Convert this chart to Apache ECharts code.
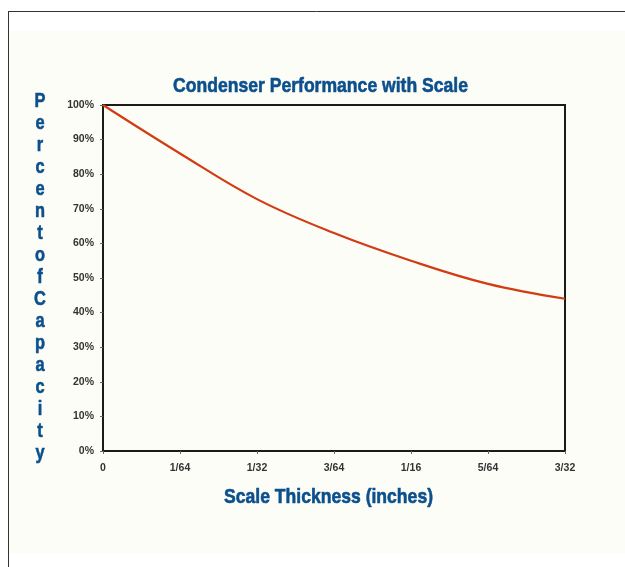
<!DOCTYPE html>
<html>
<head>
<meta charset="utf-8">
<script src="https://cdn.jsdelivr.net/npm/echarts@6/dist/echarts.min.js"></script>
<style>
html,body{margin:0;padding:0;background:#fff;}
#c{width:625px;height:567px;}
</style>
</head>
<body>
<div id="c"></div>
<script>
const categories = ['0', '1/64', '1/32', '3/64', '1/16', '5/64', '3/32'];
const capacity = [100, 86, 72.8, 63, 55, 48.3, 44];
const yTicks = { min: 0, max: 100, interval: 10 };
const titleText = 'Condenser Performance with Scale';
const xName = 'Scale Thickness (inches)';
const yName = 'Percent of Capacity';

const blue = '#0b4f8c';
const baseFont = '"Liberation Sans", Arial, sans-serif';

// horizontal condensing factor so the bold text fits the width seen in the reference
function fitScale(text, font, targetWidth) {
  const ctx = document.createElement('canvas').getContext('2d');
  ctx.font = font;
  return targetWidth / ctx.measureText(text).width;
}
const titleFont = 'bold 21px ' + baseFont;
const xNameFont = 'bold 21px ' + baseFont;
const yNameFont = 'bold 21px ' + baseFont;

const chart = echarts.init(document.getElementById('c'));
chart.setOption({
  backgroundColor: '#ffffff',
  animation: false,
  graphic: [
    { type: 'rect', left: 8, top: 31, shape: { width: 617, height: 522 }, style: { fill: '#fdfdf7' }, z: -10 },
    { type: 'line', shape: { x1: 8, y1: 11.5, x2: 625, y2: 11.5 }, style: { stroke: '#333', lineWidth: 1 }, z: -5 },
    { type: 'line', shape: { x1: 8.5, y1: 11, x2: 8.5, y2: 567 }, style: { stroke: '#333', lineWidth: 1 }, z: -5 },
    {
      type: 'text', x: 320.5, y: 86.5, scaleX: fitScale(titleText, titleFont, 295),
      style: { text: titleText, fill: blue, font: titleFont, align: 'center', verticalAlign: 'middle', stroke: blue, lineWidth: 0.6 }
    },
    {
      type: 'text', x: 328.5, y: 497.5, scaleX: fitScale(xName, xNameFont, 209),
      style: { text: xName, fill: blue, font: xNameFont, align: 'center', verticalAlign: 'middle', stroke: blue, lineWidth: 0.6 }
    },
    {
      type: 'text', x: 40, y: 90, scaleX: 0.78,
      style: {
        text: yName.replace(/ /g, '').split('').join('\n'),
        fill: blue, font: yNameFont, lineHeight: 22, align: 'center', verticalAlign: 'top', stroke: blue, lineWidth: 0.6
      }
    }
  ],
  grid: { left: 103, top: 105, right: 60, bottom: 116, show: true, borderColor: '#1e1a14', borderWidth: 2, backgroundColor: 'transparent' },
  xAxis: {
    type: 'category', data: categories, boundaryGap: false,
    axisLine: { lineStyle: { color: '#1e1a14', width: 2 } },
    axisTick: { show: true, length: 3, lineStyle: { color: '#666' } },
    axisLabel: { color: '#333', fontFamily: baseFont, fontWeight: 'bold', fontSize: 10.5, margin: 12 },
    splitLine: { show: false }
  },
  yAxis: {
    type: 'value', min: yTicks.min, max: yTicks.max, interval: yTicks.interval,
    axisLine: { show: true, lineStyle: { color: '#1e1a14', width: 2 } },
    axisTick: { show: true, length: 3, lineStyle: { color: '#666' } },
    axisLabel: { color: '#333', fontFamily: baseFont, fontWeight: 'bold', fontSize: 10.5, margin: 9, formatter: '{value}%' },
    splitLine: { show: false }
  },
  series: [{
    type: 'line', data: capacity, smooth: 0.4, showSymbol: false,
    lineStyle: { color: '#d13c12', width: 2.2 }
  }]
});
</script>
</body>
</html>
